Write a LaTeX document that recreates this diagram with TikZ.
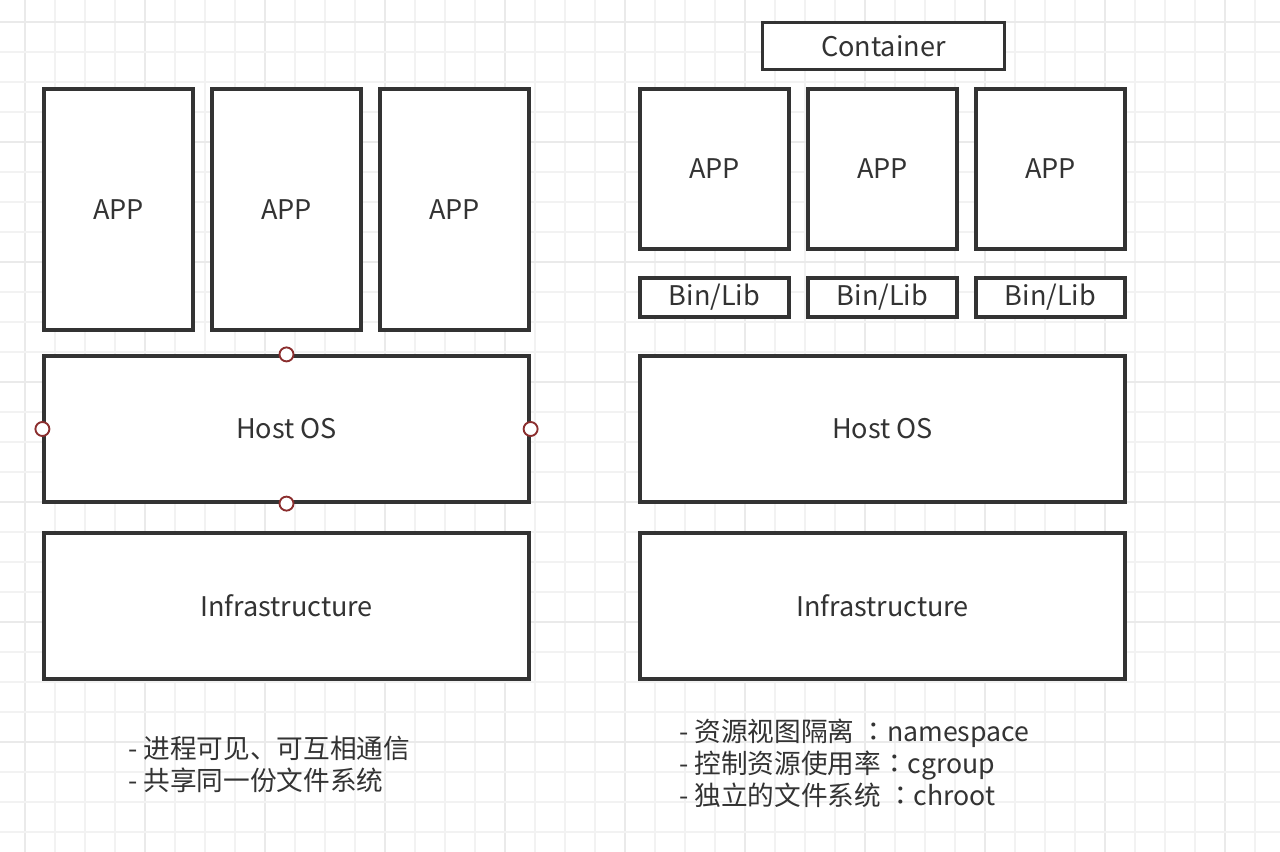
\documentclass[tikz,border=0pt]{standalone}
\usepackage{fontspec}
\setmainfont{Noto Sans CJK SC}
\newfontfamily\tcfont{Noto Sans CJK TC}
\newcommand\fcolon{{\tcfont ：}}
\definecolor{ink}{HTML}{333333}
\definecolor{gridminor}{HTML}{F2F2F2}
\definecolor{gridmajor}{HTML}{EAEAEA}
\definecolor{port}{HTML}{8B2E2E}
\def\px{0.75pt}
\tikzset{
  blk/.style={draw=ink, line width=2.4pt, fill=white, text=ink, inner sep=0pt,
    font=\fontsize{20.3}{24}\selectfont},
  portc/.style={circle, draw=port, line width=1.4pt, fill=white, minimum size=14*\px, inner sep=0pt},
  note/.style={text=ink, anchor=west, align=left, inner sep=0pt,
    font=\fontsize{20}{24}\selectfont},
  gridline/.style={line width=1.4pt},
}
\begin{document}
\begin{tikzpicture}[x=0.75pt, y=-0.75pt]
\useasboundingbox (0,0) rectangle (1280,852);
\fill[white] (0,0) rectangle (1280,852);
% grid
\foreach \k in {0,...,41} {
  \pgfmathsetmacro\gx{25+30*\k}
  \pgfmathtruncatemacro\m{mod(\k,4)}
  \ifnum\m=0 \draw[gridmajor, gridline] (\gx,0) -- (\gx,852);
  \else \draw[gridminor, gridline] (\gx,0) -- (\gx,852); \fi
}
\foreach \k in {0,...,27} {
  \pgfmathsetmacro\gy{21.7+30*\k}
  \pgfmathtruncatemacro\m{mod(\k,4)}
  \ifnum\m=0 \draw[gridmajor, gridline] (0,\gy) -- (1280,\gy);
  \else \draw[gridminor, gridline] (0,\gy) -- (1280,\gy); \fi
}
% left stack
\node[blk, minimum width=149*\px, minimum height=241*\px] (lapp1) at (118.5,209.5) {APP};
\node[blk, minimum width=149*\px, minimum height=241*\px] (lapp2) at (286.5,209.5) {APP};
\node[blk, minimum width=149*\px, minimum height=241*\px] (lapp3) at (454.5,209.5) {APP};
\node[blk, minimum width=485*\px, minimum height=146*\px] (lhost) at (286.5,429) {Host OS};
\node[blk, minimum width=485*\px, minimum height=146*\px] (linfra) at (286.5,606) {Infrastructure};
\node[portc] (pn) at (lhost.north) {};
\node[portc] (ps) at (lhost.south) {};
\node[portc] (pw) at (lhost.west) {};
\node[portc] (pe) at (lhost.east) {};
% right stack
\node[blk, minimum width=242*\px, minimum height=47*\px] (cont) at (883.3,46.3) {Container};
\node[blk, minimum width=149*\px, minimum height=160*\px] (rapp1) at (714.5,169) {APP};
\node[blk, minimum width=149*\px, minimum height=160*\px] (rapp2) at (882.5,169) {APP};
\node[blk, minimum width=149*\px, minimum height=160*\px] (rapp3) at (1050.5,169) {APP};
\node[blk, minimum width=149*\px, minimum height=39*\px] (bin1) at (714.5,297.5) {Bin/Lib};
\node[blk, minimum width=149*\px, minimum height=39*\px] (bin2) at (882.5,297.5) {Bin/Lib};
\node[blk, minimum width=149*\px, minimum height=39*\px] (bin3) at (1050.5,297.5) {Bin/Lib};
\node[blk, minimum width=485*\px, minimum height=146*\px] (rhost) at (882.5,429) {Host OS};
\node[blk, minimum width=485*\px, minimum height=146*\px] (rinfra) at (882.5,606) {Infrastructure};
% notes
\node[note] (lnote) at (128,764) {- 进程可见、可互相通信\\- 共享同一份文件系统};
\node[note] (rnote) at (679,763) {- 资源视图隔离 \fcolon namespace\\- 控制资源使用率\fcolon cgroup\\- 独立的文件系统 \fcolon chroot};
\end{tikzpicture}
\end{document}
